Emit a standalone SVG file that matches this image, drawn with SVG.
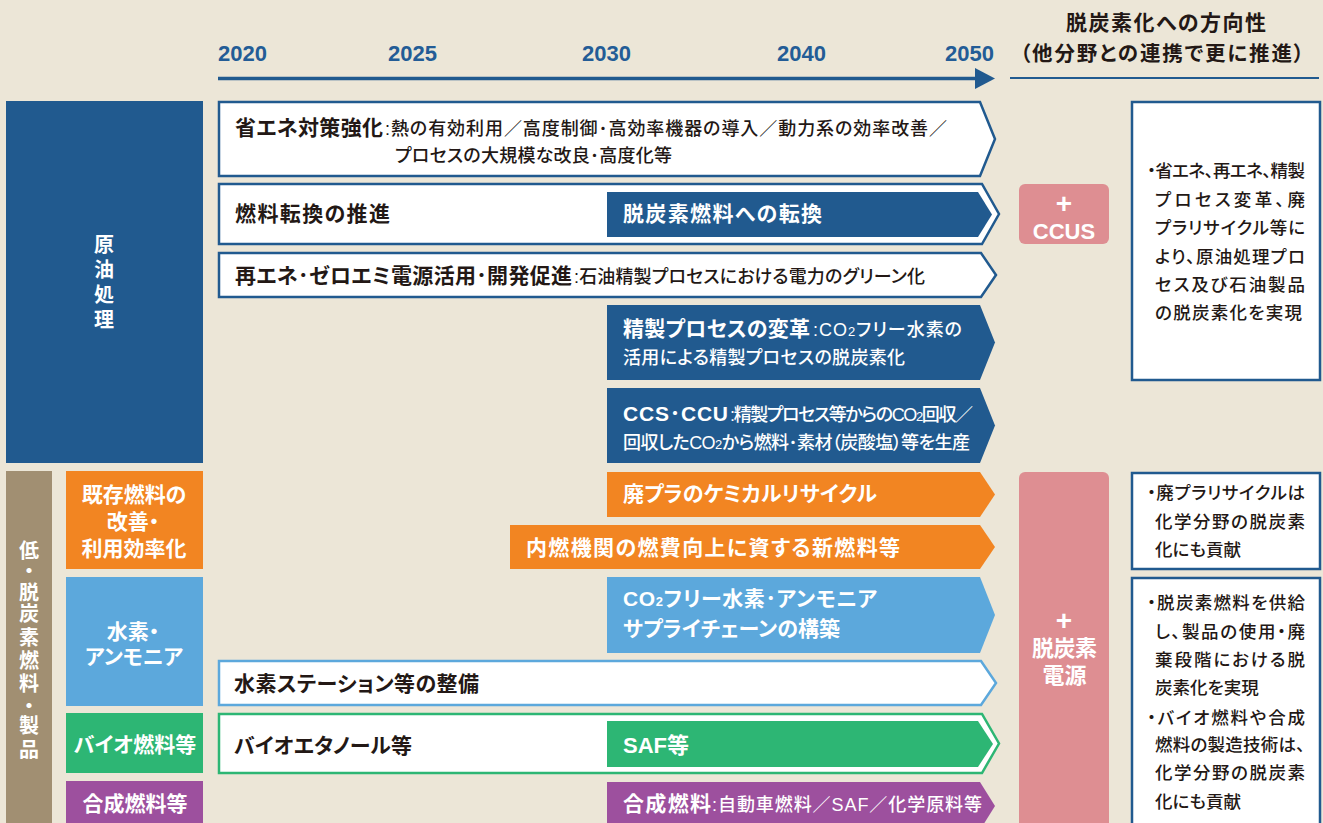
<svg xmlns="http://www.w3.org/2000/svg" width="1323" height="823" viewBox="0 0 1323 823">
<style>
text{font-family:"Liberation Sans","Noto Sans CJK JP",sans-serif;font-feature-settings:"palt";}
.yr{font-size:22px;font-weight:bold;fill:#235c96;}
.hd{font-size:21px;font-weight:bold;fill:#231815;}
.tb{font-size:21px;font-weight:bold;fill:#231815;}
.tbw{font-size:21px;font-weight:bold;fill:#ffffff;}
.tr{font-size:18px;font-weight:500;fill:#231815;}
.trw{font-size:18px;font-weight:500;fill:#ffffff;}
.lw{font-size:21px;font-weight:bold;fill:#ffffff;}
.vw{font-size:20px;font-weight:bold;fill:#ffffff;}
.pk{font-size:22px;font-weight:bold;fill:#ffffff;}
.pl{font-size:28px;font-weight:bold;fill:#ffffff;}
.nt{font-size:17.5px;font-weight:500;fill:#231815;}
.sub{font-size:13px;}
.wb{fill:#ffffff;stroke:#215a8f;stroke-width:2.5;}
.db{fill:#215a8f;}
.or{fill:#f28522;}
.lb{fill:#5ca8dc;}
.gr{fill:#2db674;}
.pu{fill:#9d509e;}
.pkf{fill:#de8e92;}
.note{fill:#ffffff;stroke:#215a8f;stroke-width:2.5;}
</style>
<rect x="0" y="0" width="1323" height="823" fill="#ece6d7"/>

<g id="timeline">
  <line x1="218" y1="78.5" x2="977" y2="78.5" stroke="#215a8f" stroke-width="3.5"/>
  <polygon points="975,68 995,78.5 975,89" fill="#215a8f"/>
  <line x1="1010" y1="78" x2="1319" y2="78" stroke="#215a8f" stroke-width="2"/>
  <text class="yr" x="218" y="61">2020</text>
  <text class="yr" x="388" y="61">2025</text>
  <text class="yr" x="582" y="61">2030</text>
  <text class="yr" x="777" y="61">2040</text>
  <text class="yr" x="945" y="61">2050</text>
</g>

<g id="header">
  <text class="hd" x="1166" y="30" text-anchor="middle" textLength="200">脱炭素化への方向性</text>
  <text class="hd" x="1162" y="60.5" text-anchor="middle" style="font-size:20.5px" textLength="284">（他分野との連携で更に推進）</text>
</g>

<g id="cat-crude">
  <rect x="6" y="101" width="197" height="362" class="db"/>
  <text class="vw" text-anchor="middle"><tspan x="104" y="251.5">原</tspan><tspan x="104" y="276.5">油</tspan><tspan x="104" y="301.5">処</tspan><tspan x="104" y="326.5">理</tspan></text>
</g>

<g id="cat-fuel">
  <rect x="6" y="471" width="46" height="360" fill="#a18f72"/>
  <text class="vw" text-anchor="middle"><tspan x="29" y="557.5">低</tspan><tspan x="29" y="577.5">・</tspan><tspan x="29" y="599.5">脱</tspan><tspan x="29" y="620.5">炭</tspan><tspan x="29" y="644.5">素</tspan><tspan x="29" y="667.5">燃</tspan><tspan x="29" y="690.5">料</tspan><tspan x="29" y="712.5">・</tspan><tspan x="29" y="732.5">製</tspan><tspan x="29" y="756.5">品</tspan></text>
</g>

<g id="sub-existing">
  <rect x="66" y="471" width="137" height="98" class="or"/>
  <text class="lw" text-anchor="middle"><tspan x="134" y="502">既存燃料の</tspan><tspan x="133" y="529">改善・</tspan><tspan x="134" y="556">利用効率化</tspan></text>
</g>
<g id="sub-hydrogen">
  <rect x="66" y="577" width="137" height="129" class="lb"/>
  <text class="lw" text-anchor="middle"><tspan x="133" y="639">水素・</tspan><tspan x="134" y="664">アンモニア</tspan></text>
</g>
<g id="sub-bio">
  <rect x="66" y="713" width="137" height="60" class="gr"/>
  <text class="lw" x="135" y="752" text-anchor="middle">バイオ燃料等</text>
</g>
<g id="sub-synth">
  <rect x="66" y="781" width="137" height="50" class="pu"/>
  <text class="lw" x="135" y="811" text-anchor="middle">合成燃料等</text>
</g>

<g id="row-energy-saving">
  <polygon points="219,102 980,102 995,139 980,176 219,176" class="wb"/>
  <text class="tb" x="235" y="135" textLength="148">省エネ対策強化</text>
  <text class="tr" x="385" y="135" textLength="562">:熱の有効利用／高度制御･高効率機器の導入／動力系の効率改善／</text>
  <text class="tr" x="395" y="161.5" textLength="277">プロセスの大規模な改良･高度化等</text>
</g>

<g id="row-fuel-switch">
  <polygon points="219,184 982,184 999,214 982,244 219,244" class="wb"/>
  <polygon points="607,192 978,192 992,214.5 978,237 607,237" class="db"/>
  <text class="tb" x="235" y="221" textLength="155">燃料転換の推進</text>
  <text class="tbw" x="623" y="221" textLength="199">脱炭素燃料への転換</text>
</g>

<g id="row-renewable">
  <polygon points="219,253 981,253 996,275 981,297 219,297" class="wb"/>
  <text class="tb" x="235" y="283" textLength="337">再エネ･ゼロエミ電源活用･開発促進</text>
  <text class="tr" x="574" y="283" textLength="351">:石油精製プロセスにおける電力のグリーン化</text>
</g>

<g id="row-refining">
  <polygon points="607,305 980,305 995,342.5 980,380 607,380" class="db"/>
  <text class="tbw" x="623" y="336" textLength="187">精製プロセスの変革</text>
  <text class="trw" x="813" y="336" textLength="149">:CO<tspan class="sub">2</tspan>フリー水素の</text>
  <text class="trw" x="623" y="364" textLength="282">活用による精製プロセスの脱炭素化</text>
</g>

<g id="row-ccs">
  <polygon points="607,388 980,388 995,425.5 980,463 607,463" class="db"/>
  <text class="tbw" x="623" y="421" textLength="105">CCS･CCU</text>
  <text class="trw" x="730" y="421" textLength="243">:精製プロセス等からのCO<tspan class="sub">2</tspan>回収／</text>
  <text class="trw" x="623" y="449" textLength="347">回収したCO<tspan class="sub">2</tspan>から燃料･素材（炭酸塩）等を生産</text>
</g>

<g id="row-plastic">
  <polygon points="607,472 980,472 995,494.5 980,517 607,517" class="or"/>
  <text class="tbw" x="623" y="501" textLength="254">廃プラのケミカルリサイクル</text>
</g>

<g id="row-newfuel">
  <polygon points="510,525 980,525 995,547 980,569 510,569" class="or"/>
  <text class="tbw" x="526" y="555" textLength="374">内燃機関の燃費向上に資する新燃料等</text>
</g>

<g id="row-supply">
  <polygon points="607,577 980,577 995,615 980,653 607,653" class="lb"/>
  <text class="tbw" x="623" y="606" textLength="254">CO<tspan class="sub">2</tspan>フリー水素･アンモニア</text>
  <text class="tbw" x="623" y="636" textLength="217">サプライチェーンの構築</text>
</g>

<g id="row-station">
  <polygon points="219,661 981,661 996,683 981,705 219,705" class="wb" style="stroke:#5ca8dc"/>
  <text class="tb" x="234" y="691" textLength="245">水素ステーション等の整備</text>
</g>

<g id="row-bio">
  <polygon points="219,714 982,714 999,743.5 982,773 219,773" class="wb" style="stroke:#2db674"/>
  <polygon points="607,721 978,721 993,744 978,767 607,767" class="gr"/>
  <text class="tb" x="234" y="753" textLength="178">バイオエタノール等</text>
  <text class="tbw" x="623" y="753" style="font-size:22px">SAF等</text>
</g>

<g id="row-synth">
  <polygon points="607,782 980,782 995,806 980,830 607,830" class="pu"/>
  <text class="tbw" x="623" y="811" textLength="88">合成燃料</text>
  <text class="trw" x="712" y="811" textLength="270">:自動車燃料／SAF／化学原料等</text>
</g>

<g id="plus-ccus">
  <rect x="1019" y="184" width="90" height="60" rx="6" class="pkf"/>
  <text class="pl" x="1064" y="212.5" text-anchor="middle">+</text>
  <text class="pk" x="1064" y="239" text-anchor="middle">CCUS</text>
</g>

<g id="plus-power">
  <rect x="1019" y="472" width="90" height="360" rx="6" class="pkf"/>
  <text class="pl" x="1064" y="630" text-anchor="middle">+</text>
  <text class="pk" x="1064.5" y="656" text-anchor="middle" textLength="65">脱炭素</text>
  <text class="pk" x="1064.5" y="683" text-anchor="middle" textLength="44">電源</text>
</g>

<g id="note-crude">
  <rect x="1132" y="102" width="188" height="278" class="note"/>
  <text class="nt" x="1147" y="177" textLength="158">・省エネ、再エネ、精製</text>
  <text class="nt" x="1155" y="206" textLength="150">プロセス変革、廃</text>
  <text class="nt" x="1155" y="234" textLength="150">プラリサイクル等に</text>
  <text class="nt" x="1155" y="263" textLength="150">より、原油処理プロ</text>
  <text class="nt" x="1155" y="291" textLength="150">セス及び石油製品</text>
  <text class="nt" x="1155" y="319" textLength="147">の脱炭素化を実現</text>
</g>

<g id="note-plastic">
  <rect x="1132" y="473" width="188" height="96" class="note"/>
  <text class="nt" x="1147" y="499" textLength="158">・廃プラリサイクルは</text>
  <text class="nt" x="1155" y="528" textLength="150">化学分野の脱炭素</text>
  <text class="nt" x="1155" y="556">化にも貢献</text>
</g>

<g id="note-fuel">
  <rect x="1132" y="578" width="188" height="260" class="note"/>
  <text class="nt" x="1147" y="609" textLength="158">・脱炭素燃料を供給</text>
  <text class="nt" x="1155" y="638" textLength="150">し、製品の使用・廃</text>
  <text class="nt" x="1155" y="666" textLength="150">棄段階における脱</text>
  <text class="nt" x="1155" y="694">炭素化を実現</text>
  <text class="nt" x="1147" y="724" textLength="158">・バイオ燃料や合成</text>
  <text class="nt" x="1155" y="751" textLength="150">燃料の製造技術は、</text>
  <text class="nt" x="1155" y="779" textLength="150">化学分野の脱炭素</text>
  <text class="nt" x="1155" y="808">化にも貢献</text>
</g>
</svg>
